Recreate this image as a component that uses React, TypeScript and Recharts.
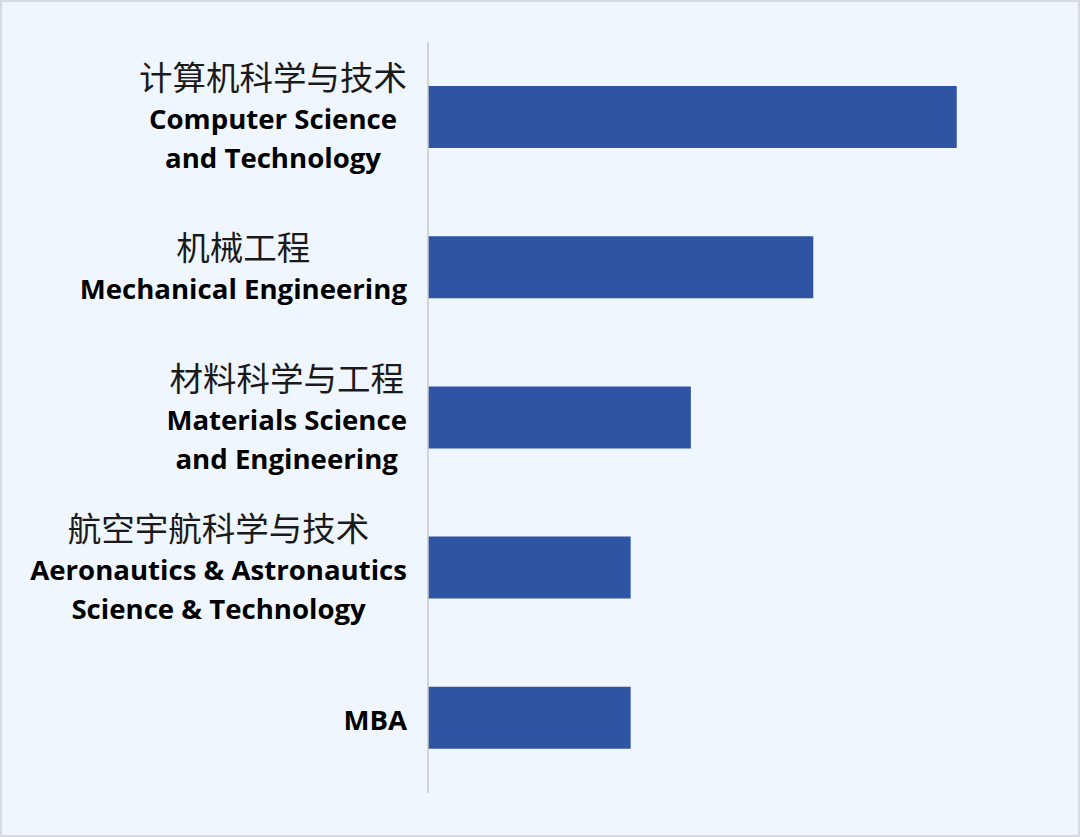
import { BarChart, Bar, XAxis, YAxis } from 'recharts'

// 学科分类与数值
const categories = ['CS', 'ME', 'MSE', 'AAST', 'MBA']
const zhLabels = ['计算机科学与技术', '机械工程', '材料科学与工程', '航空宇航科学与技术', '']
const enLabels = [
  ['Computer Science', 'and Technology'],
  ['Mechanical Engineering'],
  ['Materials Science', 'and Engineering'],
  ['Aeronautics & Astronautics', 'Science & Technology'],
  ['MBA'],
]
const values = [527, 384, 262, 202, 202]

const chartData = categories.map((name, i) => ({ name, value: values[i] }))

const ZH_FONT = '"Noto Sans CJK SC", "Noto Sans", sans-serif'
const EN_FONT = '"Open Sans", "Noto Sans", sans-serif'
const ZH_SIZE = 33.5
const EN_SIZE = 27.6

let ctx: CanvasRenderingContext2D | null = null
function measure(text: string, font: string) {
  if (!ctx) ctx = document.createElement('canvas').getContext('2d')
  if (!ctx) return text.length * 14
  ctx.font = font
  return ctx.measureText(text).width
}

function CategoryTick(props: any) {
  const { x, y, payload } = props
  const i = categories.indexOf(payload.value)
  const lines: { text: string; zh: boolean }[] = []
  if (zhLabels[i]) lines.push({ text: zhLabels[i], zh: true })
  enLabels[i].forEach((t) => lines.push({ text: t, zh: false }))

  const widths = lines.map((l) =>
    l.zh ? measure(l.text, `400 ${ZH_SIZE}px ${ZH_FONT}`) : measure(l.text, `700 ${EN_SIZE}px ${EN_FONT}`)
  )
  const right = x - 13
  const cx = right - Math.max(...widths) / 2
  const n = lines.length

  return (
    <g>
      {lines.map((l, k) => (
        <text
          key={k}
          x={cx}
          y={y + 12 + (k - (n - 1) / 2) * 39}
          textAnchor="middle"
          fill={l.zh ? '#1a1a1a' : '#000'}
          fontFamily={l.zh ? ZH_FONT : EN_FONT}
          fontSize={l.zh ? ZH_SIZE : EN_SIZE}
          fontWeight={l.zh ? 400 : 700}
        >
          {l.text}
        </text>
      ))}
    </g>
  )
}

export default function App() {
  return (
    <div
      style={{
        position: 'fixed',
        left: 0,
        top: 0,
        width: 1080,
        height: 837,
        boxSizing: 'border-box',
        background: '#f0f6fd',
        border: '2px solid #d6dbe2',
      }}
    >
      <BarChart
        width={1076}
        height={833}
        data={chartData}
        layout="vertical"
        margin={{ top: 40, right: 48, bottom: 42, left: 0 }}
      >
        <XAxis type="number" domain={[0, 600]} hide />
        <YAxis
          type="category"
          dataKey="name"
          width={426}
          axisLine={{ stroke: '#c9c9c9', strokeWidth: 1.5 }}
          tickLine={false}
          tick={<CategoryTick />}
          interval={0}
        />
        <Bar dataKey="value" fill="#2e54a3" barSize={62} isAnimationActive={false} />
      </BarChart>
    </div>
  )
}
